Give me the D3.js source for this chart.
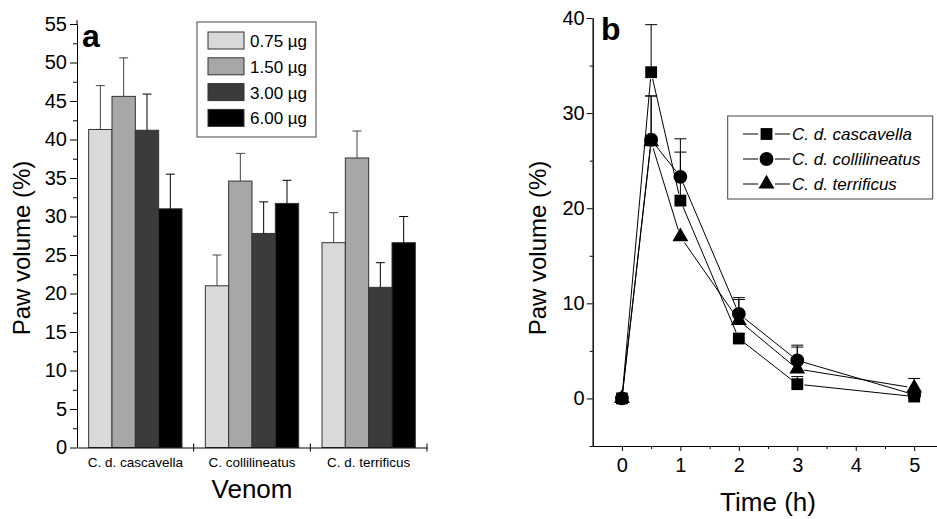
<!DOCTYPE html>
<html>
<head>
<meta charset="utf-8">
<script src="https://cdn.jsdelivr.net/npm/d3@7"></script>
<style>
  body { margin: 0; background: #fff; }
  svg { display: block; font-family: "Liberation Sans", Arial, sans-serif; }
</style>
</head>
<body>
<div id="chart"></div>
<script>
// ---- panel a : paw volume per venom and dose ----
var venoms = ["C. d. cascavella", "C. collilineatus", "C. d. terrificus"];
var doses = ["0.75 µg", "1.50 µg", "3.00 µg", "6.00 µg"];
var dose075 = [41.3, 21.0, 26.6], dose075Sd = [5.7, 4.0, 3.9];
var dose150 = [45.6, 34.6, 37.6], dose150Sd = [5.0, 3.6, 3.5];
var dose300 = [41.2, 27.8, 20.8], dose300Sd = [4.7, 4.1, 3.2];
var dose600 = [31.0, 31.7, 26.6], dose600Sd = [4.5, 3.0, 3.4];
var doseColors = ["#d9d9d9", "#a7a7a7", "#3b3b3b", "#000000"];
var aTicks = [0, 5, 10, 15, 20, 25, 30, 35, 40, 45, 50, 55];

// ---- panel b : time course ----
var hours = [0, 0.5, 1, 2, 3, 5];
var cascavella = [0, 34.3, 20.8, 6.3, 1.5, 0.2], cascavellaSd = [0, 5.0, 5.1, 0, 0.8, 0];
var collilineatus = [0, 27.2, 23.3, 8.9, 4.0, 0.4], collilineatusSd = [0, 4.6, 4.0, 1.7, 1.6, 0];
var terrificus = [0, 27.0, 17.0, 8.2, 3.1, 1.1], terrificusSd = [0, 4.8, 0, 2.2, 2.3, 1.0];
var seriesNames = ["C. d. cascavella", "C. d. collilineatus", "C. d. terrificus"];
var bTicksY = [0, 10, 20, 30, 40];
var bTicksX = [0, 1, 2, 3, 4, 5];

var svg = d3.select("#chart").append("svg")
    .attr("width", 937)
    .attr("height", 519);

function styleAxis(g, size) {
  g.attr("font-family", null).attr("font-size", size);
  g.selectAll("text").attr("fill", "#000");
  g.selectAll("line,path").attr("stroke", "#000");
}

//////////////////// panel a
var ya = d3.scaleLinear().domain([0, 55]).range([447.5, 24]),
    xa = d3.scaleBand().domain(venoms).range([77, 427]).paddingInner(0.2).paddingOuter(0.1),
    xd = d3.scaleBand().domain(doses).range([0, xa.bandwidth()]);

var doseMeans = [dose075, dose150, dose300, dose600],
    doseSds = [dose075Sd, dose150Sd, dose300Sd, dose600Sd],
    bars = [];
doses.forEach(function(d, i) {
  venoms.forEach(function(v, j) {
    bars.push({dose: d, venom: v, k: i, mean: doseMeans[i][j], sd: doseSds[i][j]});
  });
});

var pa = svg.append("g");

pa.selectAll("rect.bar").data(bars).enter().append("rect")
  .attr("class", "bar")
  .attr("x", function(d) { return xa(d.venom) + xd(d.dose); })
  .attr("y", function(d) { return ya(d.mean); })
  .attr("width", xd.bandwidth())
  .attr("height", function(d) { return ya(0) - ya(d.mean); })
  .attr("fill", function(d) { return doseColors[d.k]; })
  .attr("stroke", "#333")
  .attr("stroke-width", 1);

// error bars (upper only)
var errA = pa.selectAll("g.err").data(bars).enter().append("g")
  .attr("transform", function(d) { return "translate(" + (xa(d.venom) + xd(d.dose) + xd.bandwidth() / 2) + ",0)"; });
errA.append("line")
  .attr("y1", function(d) { return ya(d.mean); })
  .attr("y2", function(d) { return ya(d.mean + d.sd); })
  .attr("stroke", function(d) { return d.k < 2 ? "#444" : "#000"; });
errA.append("line")
  .attr("x1", -4.5).attr("x2", 4.5)
  .attr("y1", function(d) { return ya(d.mean + d.sd); })
  .attr("y2", function(d) { return ya(d.mean + d.sd); })
  .attr("stroke", function(d) { return d.k < 2 ? "#444" : "#000"; });

// y axis
pa.append("g").attr("transform", "translate(77,0)")
  .call(d3.axisLeft(ya).tickValues(d3.range(2.5, 55, 5)).tickSize(4).tickFormat("").tickSizeOuter(0))
  .call(styleAxis, 20);
pa.append("g").attr("transform", "translate(77,0)")
  .call(d3.axisLeft(ya).tickValues(aTicks).tickSize(7).tickPadding(3).tickSizeOuter(0))
  .call(styleAxis, 20);
pa.append("line").attr("x1", 77).attr("x2", 77).attr("y1", 20).attr("y2", 24).attr("stroke", "#000");

// x axis
pa.append("g").attr("transform", "translate(0," + ya(0) + ")")
  .call(d3.axisBottom(xa).tickSize(0).tickPadding(10).tickSizeOuter(0))
  .call(styleAxis, 13.5);
pa.selectAll("line.sep").data(d3.range(1, 4)).enter().append("line")
  .attr("class", "sep")
  .attr("x1", function(i) { return xa.range()[0] + i * xa.step(); })
  .attr("x2", function(i) { return xa.range()[0] + i * xa.step(); })
  .attr("y1", ya(0) - 4).attr("y2", ya(0) + 4)
  .attr("stroke", "#000");

pa.append("text")
  .attr("transform", "translate(30," + 248 + ") rotate(-90)")
  .attr("text-anchor", "middle")
  .attr("font-size", 24)
  .text("Paw volume (%)");
pa.append("text")
  .attr("x", 252).attr("y", 498)
  .attr("text-anchor", "middle")
  .attr("font-size", 26)
  .text("Venom");
pa.append("text")
  .attr("x", 82).attr("y", 47)
  .attr("font-size", 32)
  .attr("font-weight", "bold")
  .text("a");

// legend a
var lega = pa.append("g");
lega.append("rect")
  .attr("x", 197).attr("y", 22).attr("width", 119).attr("height", 115)
  .attr("fill", "#fff").attr("stroke", "#444");
var legItems = lega.selectAll("g.item").data(doses).enter().append("g")
  .attr("transform", function(d, i) { return "translate(208," + (32 + i * 25.8) + ")"; });
legItems.append("rect")
  .attr("width", 36).attr("height", 17)
  .attr("fill", function(d, i) { return doseColors[i]; })
  .attr("stroke", "#333");
legItems.append("text")
  .attr("x", 42).attr("y", 15)
  .attr("font-size", 17)
  .text(function(d) { return d; });

//////////////////// panel b
var xb = d3.scaleLinear().domain([-0.5, 5.39]).range([592.7, 937]),
    yb = d3.scaleLinear().domain([-5, 40]).range([446, 18]);

var series = [
  {name: seriesNames[0], mean: cascavella, sd: cascavellaSd, shape: d3.symbolSquare, size: 140},
  {name: seriesNames[1], mean: collilineatus, sd: collilineatusSd, shape: d3.symbolCircle, size: 150},
  {name: seriesNames[2], mean: terrificus, sd: terrificusSd, shape: d3.symbolTriangle, size: 110}
];

var pb = svg.append("g");

// axes
pb.append("g").attr("transform", "translate(592.7,0)")
  .call(d3.axisLeft(yb).tickValues([-5, 5, 15, 25, 35]).tickSize(3).tickFormat("").tickSizeOuter(0))
  .call(styleAxis, 20);
pb.append("g").attr("transform", "translate(592.7,0)")
  .call(d3.axisLeft(yb).tickValues(bTicksY).tickSize(6).tickPadding(2).tickSizeOuter(0))
  .call(styleAxis, 20);
pb.append("g").attr("transform", "translate(0,446)")
  .call(d3.axisBottom(xb).tickValues([0.5, 1.5, 2.5, 3.5, 4.5]).tickSize(3).tickFormat("").tickSizeOuter(0))
  .call(styleAxis, 20);
pb.append("g").attr("transform", "translate(0,446)")
  .call(d3.axisBottom(xb).tickValues(bTicksX).tickFormat(d3.format("d")).tickSize(5).tickPadding(7).tickSizeOuter(0))
  .call(styleAxis, 20);

// connecting lines, trimmed around the symbols
var gap = 7;
series.forEach(function(s) {
  for (var i = 0; i < hours.length - 1; i++) {
    var x0 = xb(hours[i]), y0 = yb(s.mean[i]),
        x1 = xb(hours[i + 1]), y1 = yb(s.mean[i + 1]),
        dx = x1 - x0, dy = y1 - y0, len = Math.sqrt(dx * dx + dy * dy);
    if (len <= 2 * gap) continue;
    pb.append("line")
      .attr("x1", x0 + dx * gap / len).attr("y1", y0 + dy * gap / len)
      .attr("x2", x1 - dx * gap / len).attr("y2", y1 - dy * gap / len)
      .attr("stroke", "#000").attr("stroke-width", 1);
  }
});

// error bars
series.forEach(function(s) {
  hours.forEach(function(h, i) {
    if (!s.sd[i]) return;
    var x = xb(h);
    pb.append("line")
      .attr("x1", x).attr("x2", x)
      .attr("y1", yb(s.mean[i])).attr("y2", yb(s.mean[i] + s.sd[i]))
      .attr("stroke", "#000");
    pb.append("line")
      .attr("x1", x - 6).attr("x2", x + 6)
      .attr("y1", yb(s.mean[i] + s.sd[i])).attr("y2", yb(s.mean[i] + s.sd[i]))
      .attr("stroke", "#000");
  });
});

// symbols
series.forEach(function(s) {
  pb.selectAll(null).data(hours).enter().append("path")
    .attr("transform", function(h, i) { return "translate(" + xb(h) + "," + yb(s.mean[i]) + ")"; })
    .attr("d", d3.symbol().type(s.shape).size(s.size))
    .attr("fill", "#000");
});

pb.append("text")
  .attr("transform", "translate(546," + 248 + ") rotate(-90)")
  .attr("text-anchor", "middle")
  .attr("font-size", 24)
  .text("Paw volume (%)");
pb.append("text")
  .attr("x", 768).attr("y", 511)
  .attr("text-anchor", "middle")
  .attr("font-size", 26)
  .text("Time (h)");
pb.append("text")
  .attr("x", 601).attr("y", 40)
  .attr("font-size", 32)
  .attr("font-weight", "bold")
  .text("b");

// legend b
var legb = pb.append("g");
legb.append("rect")
  .attr("x", 727.7).attr("y", 116).attr("width", 205).attr("height", 83)
  .attr("fill", "#fff").attr("stroke", "#444");
var legbItems = legb.selectAll("g.item").data(series).enter().append("g")
  .attr("transform", function(d, i) { return "translate(0," + (134 + i * 25) + ")"; });
legbItems.append("line").attr("x1", 743).attr("x2", 758).attr("stroke", "#000");
legbItems.append("line").attr("x1", 775).attr("x2", 790).attr("stroke", "#000");
legbItems.append("path")
  .attr("transform", "translate(766.5,0)")
  .attr("d", function(d) { return d3.symbol().type(d.shape).size(d.size)(); })
  .attr("fill", "#000");
legbItems.append("text")
  .attr("x", 792).attr("y", 6)
  .attr("font-size", 17)
  .attr("font-style", "italic")
  .text(function(d) { return d.name; });
</script>
</body>
</html>
